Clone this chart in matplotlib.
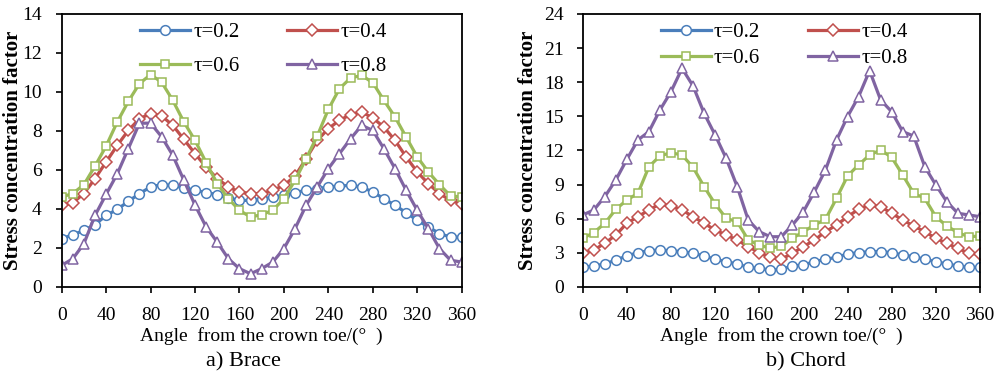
import numpy as np
import matplotlib
matplotlib.use("Agg")
import matplotlib.pyplot as plt

plt.rcParams['font.family'] = ['Liberation Serif', 'DejaVu Serif']

# --- data (angle every 10 deg) ---
angle = np.arange(0, 361, 10)

brace_t02 = [2.48, 2.68, 2.90, 3.20, 3.67, 3.98, 4.39, 4.79, 5.13, 5.25, 5.21, 5.08, 4.96,
             4.84, 4.74, 4.56, 4.44, 4.44, 4.50, 4.62, 4.70, 4.84, 4.96, 5.04, 5.13, 5.18,
             5.21, 5.13, 4.87, 4.53, 4.19, 3.81, 3.42, 3.08, 2.74, 2.56, 2.56]
brace_t04 = [4.19, 4.32, 4.79, 5.56, 6.41, 7.26, 8.03, 8.63, 8.89, 8.77, 8.29, 7.57, 6.84,
             6.15, 5.56, 5.13, 4.87, 4.79, 4.79, 4.96, 5.21, 5.69, 6.58, 7.52, 8.12, 8.55,
             8.84, 8.97, 8.67, 8.20, 7.52, 6.67, 5.90, 5.30, 4.79, 4.44, 4.27]
brace_t06 = [4.62, 4.79, 5.25, 6.20, 7.23, 8.46, 9.52, 10.43, 10.89, 10.50, 9.57, 8.46, 7.52,
             6.38, 5.30, 4.53, 3.93, 3.59, 3.71, 3.93, 4.53, 5.47, 6.58, 7.74, 9.11, 10.17,
             10.72, 10.85, 10.48, 9.57, 8.72, 7.69, 6.67, 5.90, 5.25, 4.67, 4.62]
brace_t08 = [1.11, 1.45, 2.22, 3.67, 4.75, 5.80, 7.10, 8.40, 8.40, 7.70, 6.75, 5.47, 4.20,
             3.08, 2.30, 1.45, 0.94, 0.68, 0.94, 1.28, 1.97, 2.99, 4.19, 5.13, 6.07, 6.84,
             7.60, 8.29, 8.03, 7.09, 6.07, 4.96, 3.93, 2.99, 1.97, 1.37, 1.28]

chord_t02 = [1.73, 1.85, 2.02, 2.37, 2.73, 3.02, 3.19, 3.25, 3.19, 3.11, 2.96, 2.73, 2.43,
             2.23, 2.02, 1.73, 1.64, 1.49, 1.55, 1.85, 1.93, 2.23, 2.43, 2.61, 2.90, 3.02,
             3.11, 3.11, 3.02, 2.81, 2.67, 2.43, 2.23, 2.02, 1.85, 1.73, 1.73]
chord_t04 = [2.96, 3.25, 3.84, 4.57, 5.60, 6.18, 6.77, 7.30, 7.12, 6.77, 6.18, 5.60, 5.01,
             4.57, 4.13, 3.55, 3.02, 2.61, 2.45, 2.96, 3.55, 4.13, 4.86, 5.45, 6.18, 6.83,
             7.21, 7.06, 6.48, 5.89, 5.36, 4.86, 4.28, 3.84, 3.40, 2.96, 2.90]
chord_t06 = [4.28, 4.78, 5.60, 6.83, 7.65, 8.23, 10.58, 11.52, 11.81, 11.60, 10.52, 8.82, 7.30,
             6.04, 5.74, 4.13, 3.69, 3.40, 3.60, 4.28, 4.86, 5.45, 5.95, 7.79, 9.76, 10.73,
             11.60, 12.04, 11.40, 9.85, 8.23, 7.79, 6.18, 5.36, 4.78, 4.42, 4.48]
chord_t08 = [6.33, 6.77, 7.94, 9.41, 11.22, 12.92, 13.66, 15.56, 17.17, 19.22, 17.67, 15.27, 13.36,
             11.31, 8.82, 5.89, 4.86, 4.42, 4.42, 5.45, 6.62, 8.38, 10.29, 12.92, 14.98, 16.73,
             19.02, 16.44, 15.41, 13.66, 13.27, 10.58, 8.97, 7.50, 6.48, 6.33, 6.18]

labels = ['τ=0.2', 'τ=0.4', 'τ=0.6', 'τ=0.8']
colors = ['#4a7ebb', '#c0504d', '#9bbb59', '#8064a2']
markers = ['o', 'D', 's', '^']
msizes = [7, 6, 6, 7]

fig = plt.figure(figsize=(10.03, 3.82), dpi=100)
ax1 = fig.add_axes([0.0615, 0.2487, 0.3988, 0.7147])
ax2 = fig.add_axes([0.581, 0.2487, 0.396, 0.7147])


def draw(ax, series, ymax, ystep, legend_space, ylab_x, ypad):
    handles = []
    for s, lab, c, m, ms in zip(series, labels, colors, markers, msizes):
        h, = ax.plot(angle, s, color=c, lw=2.3, marker=m, ms=ms, mfc='white',
                     mec=c, mew=1.1, label=lab)
        handles.append(h)
    ax.set_xlim(0, 360)
    ax.set_ylim(0, ymax)
    ax.set_xticks(np.arange(0, 361, 40))
    ax.set_yticks(np.arange(0, ymax + 0.1, ystep))
    ax.tick_params(direction='out', length=4.5, width=1.2, labelsize=14)
    ax.tick_params(axis='x', pad=10)
    ax.tick_params(axis='y', pad=ypad)
    for sp in ax.spines.values():
        sp.set_linewidth(1.3)
    ax.set_xlabel('Angle  from the crown toe/(°  )', fontsize=14, labelpad=2)
    ax.set_ylabel('Stress concentration factor', fontsize=15, fontweight='bold')
    ax.yaxis.set_label_coords(ylab_x, 0.5)
    # row-wise legend order: 0.2, 0.4 / 0.6, 0.8
    order = [0, 2, 1, 3]
    ax.legend([handles[i] for i in order], [labels[i] for i in order],
              loc='upper left', bbox_to_anchor=(0.17, 1.008), ncol=2, frameon=False,
              fontsize=15, handlelength=2.4, handletextpad=0.15, columnspacing=2.3,
              labelspacing=legend_space, borderpad=0, numpoints=1)


draw(ax1, [brace_t02, brace_t04, brace_t06, brace_t08], 14, 2, 0.72, -0.097, 10)
draw(ax2, [chord_t02, chord_t04, chord_t06, chord_t08], 24, 3, 0.32, -0.1125, 9)

fig.text(243 / 1003, 0.052, 'a) Brace', fontsize=16, ha='center', va='center')
fig.text(806 / 1003, 0.052, 'b) Chord', fontsize=16, ha='center', va='center')

fig.savefig('out.png', dpi=100)
